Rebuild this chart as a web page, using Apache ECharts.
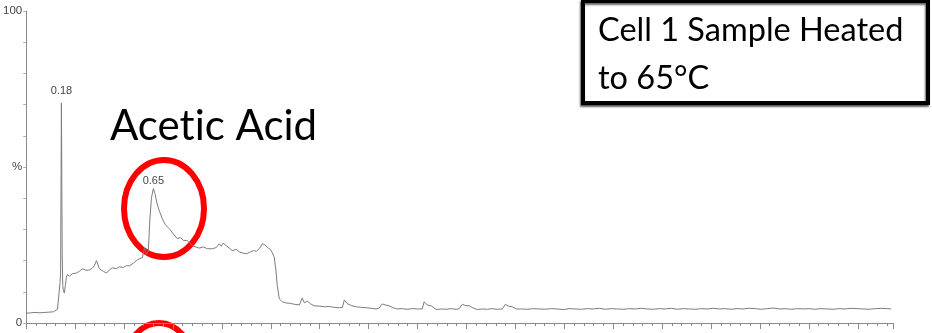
<!DOCTYPE html>
<html>
<head>
<meta charset="utf-8">
<script src="https://cdn.jsdelivr.net/npm/echarts@6/dist/echarts.min.js"></script>
<style>
  html, body { margin: 0; padding: 0; background: #ffffff; }
  #chart { width: 932px; height: 333px; }
</style>
</head>
<body>
<div id="chart"></div>
<script>
// Retention time (min) of each sampled point of the trace
const retentionTimes = [
  0.000, 0.010, 0.020, 0.030, 0.040, 0.050, 0.060, 0.070, 0.080, 0.090,
  0.100, 0.110, 0.120, 0.130, 0.140, 0.150, 0.160, 0.165, 0.170, 0.173,
  0.176, 0.180, 0.184, 0.187, 0.190, 0.195, 0.200, 0.205, 0.210, 0.221,
  0.235, 0.257, 0.272, 0.287, 0.305, 0.323, 0.338, 0.348, 0.359, 0.374,
  0.394, 0.410, 0.425, 0.440, 0.461, 0.476, 0.497, 0.512, 0.527, 0.548,
  0.563, 0.578, 0.594, 0.604, 0.614, 0.624, 0.632, 0.640, 0.650, 0.658,
  0.670, 0.680, 0.696, 0.711, 0.732, 0.752, 0.773, 0.788, 0.803, 0.824,
  0.834, 0.849, 0.870, 0.885, 0.905, 0.926, 0.951, 0.972, 0.987, 0.997,
  1.007, 1.022, 1.038, 1.053, 1.074, 1.089, 1.109, 1.125, 1.140, 1.161,
  1.176, 1.191, 1.207, 1.222, 1.237, 1.248, 1.258, 1.268, 1.276, 1.283,
  1.294, 1.309, 1.330, 1.350, 1.370, 1.396, 1.411, 1.421, 1.437, 1.452,
  1.472, 1.498, 1.524, 1.549, 1.575, 1.601, 1.616, 1.626, 1.641, 1.661,
  1.687, 1.713, 1.738, 1.764, 1.789, 1.804, 1.820, 1.835, 1.855, 1.876,
  1.896, 1.922, 1.947, 1.973, 1.998, 2.024, 2.034, 2.049, 2.070, 2.096,
  2.121, 2.147, 2.172, 2.198, 2.213, 2.229, 2.244, 2.265, 2.285, 2.306,
  2.331, 2.357, 2.382, 2.408, 2.433, 2.449, 2.464, 2.484, 2.505, 2.530,
  2.561, 2.592, 2.622, 2.653, 2.684, 2.714, 2.745, 2.776, 2.806, 2.837,
  2.868, 2.898, 2.929, 2.960, 2.990, 3.021, 3.052, 3.082, 3.113, 3.144,
  3.174, 3.205, 3.236, 3.266, 3.297, 3.328, 3.358, 3.389, 3.420, 3.450,
  3.481, 3.511, 3.542, 3.573, 3.603, 3.634, 3.665, 3.695, 3.726, 3.757,
  3.787, 3.818, 3.849, 3.879, 3.910, 3.941, 3.971, 4.002, 4.032, 4.063,
  4.094, 4.124, 4.155, 4.186, 4.216, 4.247, 4.278, 4.308, 4.339, 4.370,
  4.400, 4.421
];

// Relative intensity (%) at each retention time
const intensities = [
  3.2, 3.3, 3.2, 3.3, 3.4, 3.3, 3.3, 3.4, 3.3, 3.5,
  3.4, 3.4, 3.5, 3.4, 3.6, 4.2, 4.4, 4.3, 4.6, 13.0,
  16.0, 70.5, 22.0, 12.0, 10.5, 9.6, 12.0, 14.5, 15.5, 15.0,
  15.8, 16.0, 16.6, 17.4, 16.9, 17.0, 17.6, 18.3, 20.0, 17.4,
  16.6, 16.0, 17.0, 17.7, 17.4, 18.0, 17.8, 18.4, 18.3, 19.2,
  20.0, 20.6, 20.9, 24.0, 22.0, 23.0, 33.0, 40.0, 43.1, 41.5,
  38.0, 36.0, 33.4, 31.5, 30.2, 28.5, 27.0, 27.4, 26.5, 26.4,
  25.8, 24.8, 24.3, 24.0, 24.4, 23.8, 23.8, 24.2, 25.4, 24.6,
  25.6, 24.8, 24.0, 23.2, 23.6, 22.8, 22.4, 22.2, 22.6, 23.2,
  23.0, 23.8, 25.4, 25.0, 24.0, 23.6, 22.5, 21.0, 17.0, 12.0,
  7.7, 6.8, 6.4, 6.3, 6.0, 5.8, 8.0, 6.5, 7.0, 6.2,
  5.5, 5.4, 5.2, 5.3, 5.0, 4.9, 5.0, 7.4, 6.2, 5.6,
  5.2, 5.0, 4.9, 4.7, 4.5, 4.8, 6.1, 5.8, 5.5, 4.9,
  4.5, 4.6, 4.4, 4.6, 4.5, 4.5, 6.8, 5.8, 5.5, 4.3,
  4.5, 4.4, 4.6, 4.4, 4.6, 6.0, 5.6, 5.5, 4.8, 4.3,
  4.5, 4.4, 4.6, 4.4, 4.5, 6.0, 5.4, 5.2, 4.5, 4.5,
  4.4, 4.6, 4.5, 4.4, 4.6, 4.5, 4.3, 4.6, 4.5, 4.4,
  4.6, 4.5, 4.7, 4.4, 4.6, 4.5, 4.4, 4.6, 4.5, 4.7,
  4.5, 4.4, 4.6, 4.5, 4.7, 4.4, 4.6, 4.5, 4.4, 4.6,
  4.5, 4.7, 4.5, 4.6, 4.4, 4.6, 4.5, 4.7, 4.6, 4.4,
  4.6, 4.8, 4.5, 4.6, 4.4, 4.6, 4.5, 4.6, 4.4, 4.6,
  4.5, 4.4, 4.6, 4.5, 4.7, 4.6, 4.5, 4.4, 4.6, 4.7,
  4.6, 4.5
];

// Labelled peak apexes (retention time, min)
const peakTimes = [0.18, 0.65];
const peakLabels = ['0.18', '0.65'];
const peakLabelGaps = [6, 2];

// Y axis: only three positions carry a label
const yTickLabels = { 0: '0', 50: '%', 100: '100' };

// Zero-width non-joiner keeps "t" and "i" as separate glyphs (no ligature)
const annotationTitle = 'Acet\u200Cic Acid';
const sampleNote = ['Cell 1 Sample Heated', 'to 65\u00B0C'];

const tracePoints = retentionTimes.map((t, i) => [t, intensities[i]]);

const peakMarks = peakTimes.map((t, k) => {
  const idx = retentionTimes.indexOf(t);
  return {
    coord: [t, intensities[idx]],
    label: { formatter: peakLabels[k], distance: peakLabelGaps[k] }
  };
});

const chart = echarts.init(document.getElementById('chart'), null, { renderer: 'canvas' });

const axisGrey = '#8a8a8a';

chart.setOption({
  animation: false,
  backgroundColor: '#ffffff',
  grid: { left: 25, right: 39, top: 11, bottom: 10, containLabel: false },
  xAxis: {
    type: 'value',
    min: 0,
    max: 4.43,
    interval: 0.25,
    axisLine: { show: true, lineStyle: { color: axisGrey, width: 1 } },
    axisTick: { show: true, length: 6, lineStyle: { color: axisGrey } },
    minorTick: { show: true, splitNumber: 5, length: 3, lineStyle: { color: axisGrey } },
    axisLabel: { show: false },
    splitLine: { show: false },
    minorSplitLine: { show: false }
  },
  yAxis: {
    type: 'value',
    min: 0,
    max: 100,
    interval: 10,
    axisLine: { show: true, lineStyle: { color: axisGrey, width: 1 } },
    axisTick: { show: true, length: 3, lineStyle: { color: '#b0b0b0' } },
    axisLabel: {
      show: true,
      margin: 4,
      color: '#444444',
      fontFamily: 'Liberation Sans, Arial, sans-serif',
      fontSize: 11.5,
      formatter: (v) => (yTickLabels[v] !== undefined ? yTickLabels[v] : '')
    },
    splitLine: { show: false }
  },
  series: [{
    type: 'line',
    data: tracePoints,
    showSymbol: false,
    symbol: 'none',
    smooth: false,
    lineStyle: { color: '#7c7c7c', width: 1 },
    markPoint: {
      symbol: 'circle',
      symbolSize: 1,
      itemStyle: { color: 'rgba(0,0,0,0)' },
      label: {
        show: true,
        position: 'top',
        color: '#444444',
        fontFamily: 'Liberation Sans, Arial, sans-serif',
        fontSize: 11
      },
      data: peakMarks
    }
  }],
  graphic: [
    {
      type: 'text',
      left: 110,
      top: 105,
      style: {
        text: annotationTitle,
        font: '42px Lato, "Open Sans", sans-serif',
        fill: '#000000'
      }
    },
    {
      type: 'ellipse',
      shape: { cx: 164, cy: 208.5, rx: 40, ry: 48.5 },
      style: { fill: 'none', stroke: '#ff0000', lineWidth: 6 }
    },
    {
      type: 'ellipse',
      shape: { cx: 159, cy: 371, rx: 36, ry: 48 },
      style: { fill: 'none', stroke: '#ff0000', lineWidth: 6 }
    },
    {
      type: 'rect',
      shape: { x: 583, y: 1, width: 345, height: 102 },
      style: {
        fill: '#ffffff',
        stroke: '#000000',
        lineWidth: 4,
        shadowColor: 'rgba(0,0,0,0.6)',
        shadowBlur: 2,
        shadowOffsetX: -1,
        shadowOffsetY: 2
      }
    },
    {
      type: 'text',
      left: 598,
      top: 7,
      style: {
        text: sampleNote.join('\n'),
        font: '32.5px Lato, "Open Sans", sans-serif',
        lineHeight: 48,
        fill: '#000000'
      }
    }
  ]
});
</script>
</body>
</html>
